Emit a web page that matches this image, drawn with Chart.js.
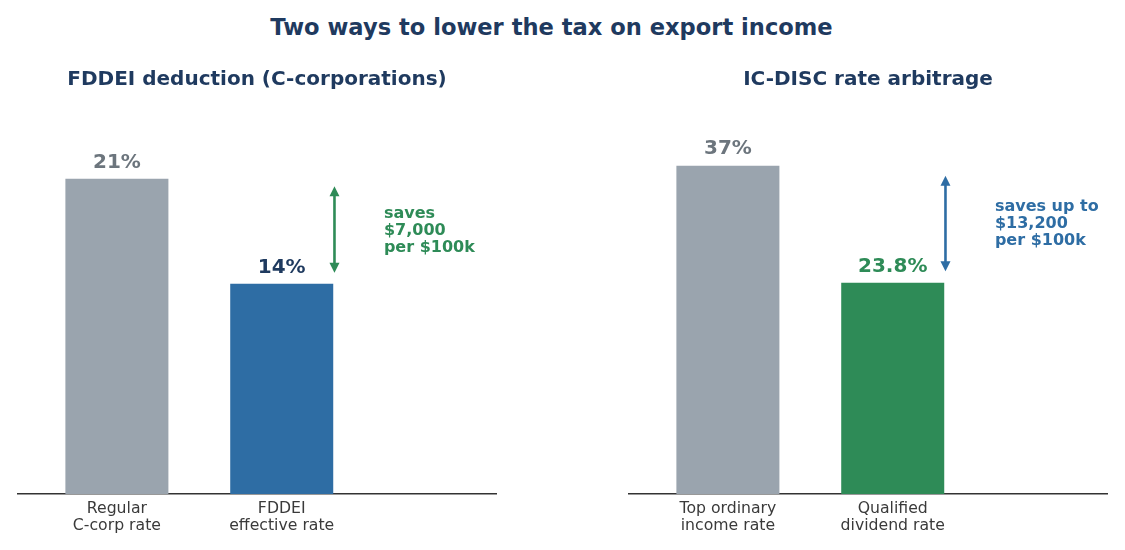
<!DOCTYPE html>
<html>
<head>
<meta charset="utf-8">
<script src="https://cdn.jsdelivr.net/npm/chart.js@4.4.1/dist/chart.umd.min.js"></script>
<style>
  html, body { margin: 0; padding: 0; background: #ffffff; }
  body { width: 1125px; height: 550px; position: relative; overflow: hidden; font-family: "DejaVu Sans", sans-serif; }
  #title { position: absolute; left: -11px; top: 13px; width: 1125px; text-align: center; font-weight: bold; font-size: 22.6px; color: #1f3a5f; line-height: 28px; }
  #c1 { position: absolute; left: 0; top: 0; }
  #c2 { position: absolute; left: 560px; top: 0; }
</style>
</head>
<body>
<div id="title">Two ways to lower the tax on export income</div>
<canvas id="c1" width="560" height="550"></canvas>
<canvas id="c2" width="565" height="550"></canvas>
<script>
// ---- data ----
const fddeiTitle = "FDDEI deduction (C-corporations)";
const fddeiCategories = [["Regular", "C-corp rate"], ["FDDEI", "effective rate"]];
const fddeiValues = [21, 14];
const fddeiValueLabels = ["21%", "14%"];
const fddeiNote = ["saves", "$7,000", "per $100k"];

const discTitle = "IC-DISC rate arbitrage";
const discCategories = [["Top ordinary", "income rate"], ["Qualified", "dividend rate"]];
const discValues = [37, 23.8];
const discValueLabels = ["37%", "23.8%"];
const discNote = ["saves up to", "$13,200", "per $100k"];

const NAVY = "#1f3a5f";
const GRAY_BAR = "#9aa4ae";
const GRAY_TEXT = "#6c757d";
const BLUE = "#2e6da4";
const GREEN = "#2e8b57";

const overlay = {
  id: "overlay",
  afterDatasetsDraw(chart, args, o) {
    const ctx = chart.ctx;
    const xs = chart.scales.x, ys = chart.scales.y;
    const ca = chart.chartArea;
    ctx.save();
    // subplot title
    ctx.font = "bold 20px 'DejaVu Sans'";
    ctx.fillStyle = NAVY;
    ctx.textAlign = "center";
    ctx.textBaseline = "middle";
    ctx.fillText(o.title, (ca.left + ca.right) / 2, 80);
    // value labels
    ctx.font = "bold 20px 'DejaVu Sans'";
    o.values.forEach((v, i) => {
      ctx.fillStyle = o.labelColors[i];
      ctx.fillText(o.valueLabels[i], xs.getPixelForValue(i), ys.getPixelForValue(v) - 16.5);
    });
    // double arrow
    const ax = xs.getPixelForValue(1.32);
    const yTop = ys.getPixelForValue(o.values[0]) + o.shrink[0];
    const yBot = ys.getPixelForValue(o.values[1]) - o.shrink[1];
    ctx.strokeStyle = o.noteColor;
    ctx.fillStyle = o.noteColor;
    ctx.lineWidth = 2.6;
    ctx.beginPath();
    ctx.moveTo(ax, yTop + 8);
    ctx.lineTo(ax, yBot - 8);
    ctx.stroke();
    ctx.beginPath();
    ctx.moveTo(ax, yTop); ctx.lineTo(ax - 5, yTop + 10); ctx.lineTo(ax + 5, yTop + 10); ctx.closePath(); ctx.fill();
    ctx.beginPath();
    ctx.moveTo(ax, yBot); ctx.lineTo(ax - 5, yBot - 10); ctx.lineTo(ax + 5, yBot - 10); ctx.closePath(); ctx.fill();
    // note text
    ctx.font = "bold 16px 'DejaVu Sans'";
    ctx.textAlign = "left";
    const tx = xs.getPixelForValue(1.62);
    const ym = ys.getPixelForValue((o.values[0] + o.values[1]) / 2);
    const lh = 17;
    o.note.forEach((line, i) => {
      ctx.fillText(line, tx, ym + (i - (o.note.length - 1) / 2) * lh);
    });
    ctx.restore();
  }
};

function makeChart(id, cats, vals, colors, ymax, pad, opts) {
  return new Chart(document.getElementById(id), {
    type: "bar",
    data: {
      datasets: [{
        data: vals.map((v, i) => ({ x: i, y: v })),
        backgroundColor: colors,
        borderWidth: 0,
        categoryPercentage: 1,
        barPercentage: 0.625
      }]
    },
    options: {
      responsive: false,
      animation: false,
      layout: { padding: { left: pad.left, right: pad.right, top: 100, bottom: 0 } },
      plugins: { legend: { display: false }, tooltip: { enabled: false }, title: { display: false }, overlay: opts },
      scales: {
        x: {
          type: "linear",
          min: -0.6, max: 2.3,
          offset: false,
          grid: { display: false, drawTicks: false, offset: false },
          border: { display: true, color: "#333333", width: 1.5 },
          afterBuildTicks(scale) { scale.ticks = cats.map((c, i) => ({ value: i })); },
          afterFit(scale) { scale.height = 56; },
          ticks: {
            autoSkip: false, maxRotation: 0, padding: 7,
            color: "#3a3a3a",
            font: { family: "DejaVu Sans", size: 15.7, lineHeight: 1.05 },
            callback: (v) => cats[v]
          }
        },
        y: { display: false, min: 0, max: ymax }
      }
    },
    plugins: [overlay]
  });
}

makeChart("c1", fddeiCategories, fddeiValues, [GRAY_BAR, BLUE], 26.25, { left: 18, right: 64 }, {
  title: fddeiTitle, values: fddeiValues, valueLabels: fddeiValueLabels,
  labelColors: [GRAY_TEXT, NAVY], note: fddeiNote, noteColor: GREEN, shrink: [7.5, 11]
});
makeChart("c2", discCategories, discValues, [GRAY_BAR, GREEN], 44.4, { left: 69, right: 18 }, {
  title: discTitle, values: discValues, valueLabels: discValueLabels,
  labelColors: [GRAY_TEXT, GREEN], note: discNote, noteColor: BLUE, shrink: [10, 11.5]
});
</script>
</body>
</html>
